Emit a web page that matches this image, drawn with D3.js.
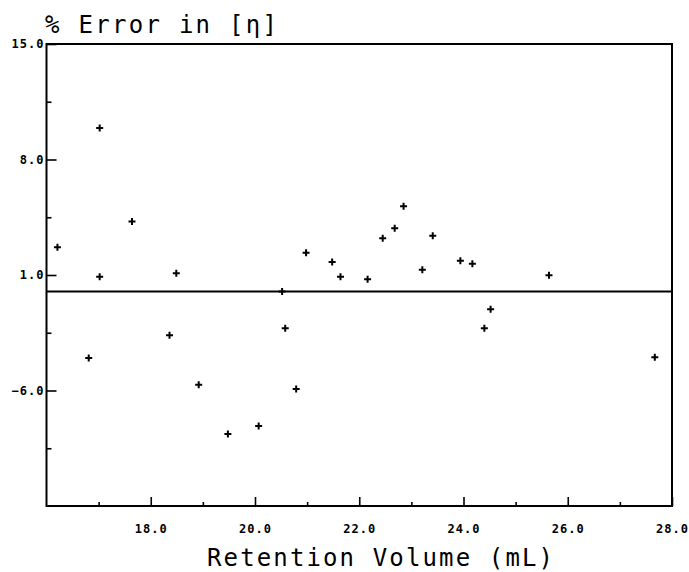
<!DOCTYPE html>
<html>
<head>
<meta charset="utf-8">
<script src="https://cdn.jsdelivr.net/npm/d3@7"></script>
<style>
  html, body { margin: 0; padding: 0; background: #fff; }
  svg { display: block; }
  .tick text { font-family: "DejaVu Sans Mono", monospace; font-weight: bold; font-size: 12px; fill: #000; letter-spacing: 1px; }
  .tick line { stroke: #000; stroke-width: 1.6; }
  .domain { display: none; }
</style>
</head>
<body>
<svg id="chart" width="689" height="572"></svg>
<script>
// Retention volume (mL) of each sample
const retentionVolume = [
  16.21, 16.81, 17.02, 17.02, 17.64, 18.36, 18.49, 18.92, 19.48, 20.07,
  20.52, 20.58, 20.79, 20.98, 21.48, 21.64, 22.16, 22.45, 22.68, 22.85,
  23.21, 23.41, 23.94, 24.17, 24.40, 24.52, 25.64, 27.67
];
// Percent error in intrinsic viscosity [η]
const percentError = [
  2.68, -4.03, 9.91, 0.90, 4.25, -2.65, 1.10, -5.65, -8.64, -8.15,
  0.00, -2.23, -5.91, 2.35, 1.79, 0.90, 0.74, 3.22, 3.83, 5.16,
  1.32, 3.38, 1.87, 1.68, -2.23, -1.08, 0.98, -3.99
];

const xMajorTicks = [18, 20, 22, 24, 26, 28];
const xMinorTicks = [17, 19, 21, 23, 25, 27];
const yMajorTicks = [15, 8, 1, -6];
const yMinorTicks = [11.5, 4.5, -2.5, -9.5];
const xDomain = [16, 28];
const yDomain = [-13, 15];

const titleText = "% Error in [η]";
const xTitleText = "Retention Volume  (mL)";

const svg = d3.select("#chart");
const plotLeft = 46.5, plotRight = 672, plotTop = 44, plotBottom = 506;

const x = d3.scaleLinear().domain(xDomain).range([plotLeft, plotRight]);
const y = d3.scaleLinear().domain(yDomain).range([plotBottom, plotTop]);
const fmt = d3.format(".1f");

// Bottom axis: labelled major ticks and short minor ticks, both pointing inward
svg.append("g")
  .attr("transform", `translate(0,${plotBottom})`)
  .call(d3.axisBottom(x).tickValues(xMajorTicks).tickFormat(fmt).tickSizeInner(-9).tickPadding(18));
svg.append("g")
  .attr("transform", `translate(0,${plotBottom})`)
  .call(d3.axisBottom(x).tickValues(xMinorTicks).tickFormat("").tickSizeInner(-4));

// Left axis
svg.append("g")
  .attr("transform", `translate(${plotLeft},0)`)
  .call(d3.axisLeft(y).tickValues(yMajorTicks).tickFormat(fmt).tickSizeInner(-10).tickPadding(2));
svg.append("g")
  .attr("transform", `translate(${plotLeft},0)`)
  .call(d3.axisLeft(y).tickValues(yMinorTicks).tickFormat("").tickSizeInner(-5));

// Plot frame
svg.append("rect")
  .attr("x", plotLeft).attr("y", plotTop)
  .attr("width", plotRight - plotLeft).attr("height", plotBottom - plotTop)
  .attr("fill", "none").attr("stroke", "#000").attr("stroke-width", 2);

// Zero-error reference line
svg.append("line")
  .attr("x1", plotLeft).attr("x2", plotRight)
  .attr("y1", y(0)).attr("y2", y(0))
  .attr("stroke", "#000").attr("stroke-width", 2);

// Plus markers
const data = retentionVolume.map((v, i) => ({ v, e: percentError[i] }));
const arm = 3.5;
svg.append("g").selectAll("path")
  .data(data)
  .join("path")
  .attr("d", d => {
    const cx = x(d.v), cy = y(d.e);
    return `M${cx - arm},${cy}H${cx + arm}M${cx},${cy - arm}V${cy + arm}`;
  })
  .attr("stroke", "#000")
  .attr("stroke-width", 2)
  .attr("fill", "none");

// Titles
svg.append("text")
  .attr("x", 45).attr("y", 33)
  .attr("textLength", 232).attr("lengthAdjust", "spacing")
  .style("font-family", "'DejaVu Sans Mono', monospace")
  .style("font-size", "24px")
  .style("fill", "#000")
  .text(titleText);

svg.append("text")
  .attr("x", 207).attr("y", 566)
  .attr("textLength", 346).attr("lengthAdjust", "spacing")
  .style("font-family", "'DejaVu Sans Mono', monospace")
  .style("font-size", "24px")
  .style("fill", "#000")
  .text(xTitleText);
</script>
</body>
</html>
